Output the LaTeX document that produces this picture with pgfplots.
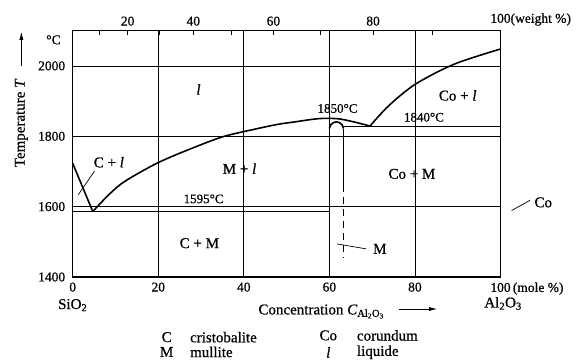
\documentclass[border=0pt]{standalone}
\usepackage{fontspec}
\setmainfont{Liberation Serif}[FakeBold=0.7]
\usepackage{pgfplots}
\pgfplotsset{compat=1.18}
\usetikzlibrary{arrows.meta}
\newcommand{\fA}{\fontsize{15}{17}\selectfont}
\newcommand{\fT}{\fontsize{13.5}{15}\selectfont}
\newcommand{\fD}{\fontsize{13}{15}\selectfont}
\begin{document}
\begin{tikzpicture}
\path[use as bounding box] (-72.7pt,-83pt) rectangle (506.3pt,277pt);
\begin{axis}[
  at={(0pt,0pt)}, anchor=south west,
  scale only axis, width=427.8pt, height=246.3pt,
  xmin=0, xmax=100, ymin=1400, ymax=2100,
  xtick={0,20,40,60,80,100},
  xticklabels={0,20,40,60,80,100\rlap{\,(mole \%)}},
  ytick={1400,1600,1800,2000},
  yticklabels={1400,1600,1800,2000},
  grid=major, grid style={black, line width=0.7pt},
  major tick length=0pt,
  axis line style={line width=1.1pt},
  tick label style={font=\fT},
  xticklabel style={yshift=-2pt},
  yticklabel style={xshift=-4pt},
  /pgf/number format/assume math mode=true,
  clip=false,
]
% liquidus, SiO2 side
\addplot[black, line width=1.6pt] coordinates {(0,1723) (4.7,1586)};
\addplot[black, line width=1.6pt, smooth] coordinates {
  (4.7,1586) (8.45,1634) (12.2,1672) (19.8,1724) (27.5,1764) (35.2,1799)
  (42.9,1821) (48,1834) (52,1841) (56.6,1849) (59.5,1851) (62.5,1849)
  (66,1840) (69.5,1829)};
% liquidus, Al2O3 side
\addplot[black, line width=1.6pt, smooth] coordinates {
  (69.5,1829) (73.8,1886) (80.1,1948) (89.2,2005) (100,2048)};
% eutectic lines
\addplot[black, line width=1.6pt] coordinates {(0,1586) (60,1586)};
\addplot[black, line width=1.6pt] coordinates {(63.3,1828) (100,1828)};
% mullite field
\addplot[black, line width=1.6pt] coordinates {(60,1400) (60,1822)};
\addplot[black, line width=1.6pt, smooth] coordinates {
  (60,1822) (60.35,1833) (61,1839) (61.65,1841) (62.3,1839) (62.95,1833) (63.3,1822)};
\addplot[black, line width=1.6pt] coordinates {(63.3,1822) (63.3,1662)};
\addplot[black, line width=1.6pt, dash pattern=on 7pt off 5pt] coordinates {(63.3,1662) (63.3,1457)};
% leaders
\draw[line width=0.7pt] (axis cs:5.1,1701) -- (axis cs:1.3,1634);
\draw[line width=0.7pt] (axis cs:61.8,1494) -- (axis cs:68.6,1480);
\draw[line width=0.7pt] (axis cs:102.6,1589) -- (axis cs:106.9,1618);
% field labels
\node[font=\fA] at (axis cs:29.4,1933) {\textit{l}};
\node[font=\fA] at (axis cs:8.45,1726) {C + \textit{l}};
\node[font=\fA] at (axis cs:39.0,1708) {M + \textit{l}};
\node[font=\fA] at (axis cs:29.6,1496) {C + M};
\node[font=\fA] at (axis cs:79.3,1693) {Co + M};
\node[font=\fA] at (axis cs:90,1916) {Co + \textit{l}};
\node[font=\fA] at (axis cs:71.8,1480) {M};
\node[font=\fA] at (axis cs:110,1612) {Co};
\node[font=\fD] at (axis cs:61.9,1879) {1850°C};
\node[font=\fD] at (axis cs:82.1,1854) {1840°C};
\node[font=\fD] at (axis cs:30.6,1622) {1595°C};
% unit and axis titles
\node[font=\fT] at (axis cs:-4.5,2074) {°C};
\node[font=\fA, rotate=90] at (axis cs:-12.0,1838) {Temperature \textit{T}};
\draw[line width=0.8pt, -{Latex[length=8pt,width=4pt]}] (axis cs:-12.0,2000) -- (axis cs:-12.0,2097);
\node[font=\fA, anchor=west] at (axis cs:42.6,1302) {Concentration \textit{C}\textsubscript{Al\textsubscript{2}O\textsubscript{3}}};
\draw[line width=0.8pt, -{Latex[length=8pt,width=4pt]}] (axis cs:76.3,1309) -- (axis cs:85.2,1309);
\node[font=\fA] at (axis cs:0,1320) {SiO\textsubscript{2}};
\node[font=\fA] at (axis cs:100.6,1325) {Al\textsubscript{2}O\textsubscript{3}};
% legend
\begin{scope}[every node/.style={font=\fA, inner sep=0pt}]
\node at (axis cs:21.97,1229) {C};
\node[anchor=west] at (axis cs:27.4,1229) {cristobalite};
\node at (axis cs:21.97,1187) {M};
\node[anchor=west] at (axis cs:27.4,1187) {mullite};
\node at (axis cs:59.75,1234) {Co};
\node[anchor=west] at (axis cs:66.4,1234) {corundum};
\node at (axis cs:59.75,1186) {\textit{l}};
\node[anchor=west] at (axis cs:66.4,1186) {liquide};
\end{scope}
\end{axis}
\begin{axis}[
  at={(0pt,0pt)}, anchor=south west,
  scale only axis, width=427.8pt, height=246.3pt,
  xmin=0, xmax=100, ymin=1400, ymax=2100,
  axis x line*=top, axis y line=none,
  xtick={6.15,12.84,20.16,28.20,37.08,46.92,57.89,70.21,84.14,100},
  xticklabels={,20,,40,,60,,80,,100\rlap{(weight \%)}},
  tick align=inside, major tick length=4pt,
  tick style={black, line width=0.8pt},
  axis line style={line width=1.1pt},
  tick label style={font=\fT},
  xticklabel style={yshift=1.5pt},
]
\addplot[draw=none] coordinates {(0,1400)};
\end{axis}
\end{tikzpicture}
\end{document}
